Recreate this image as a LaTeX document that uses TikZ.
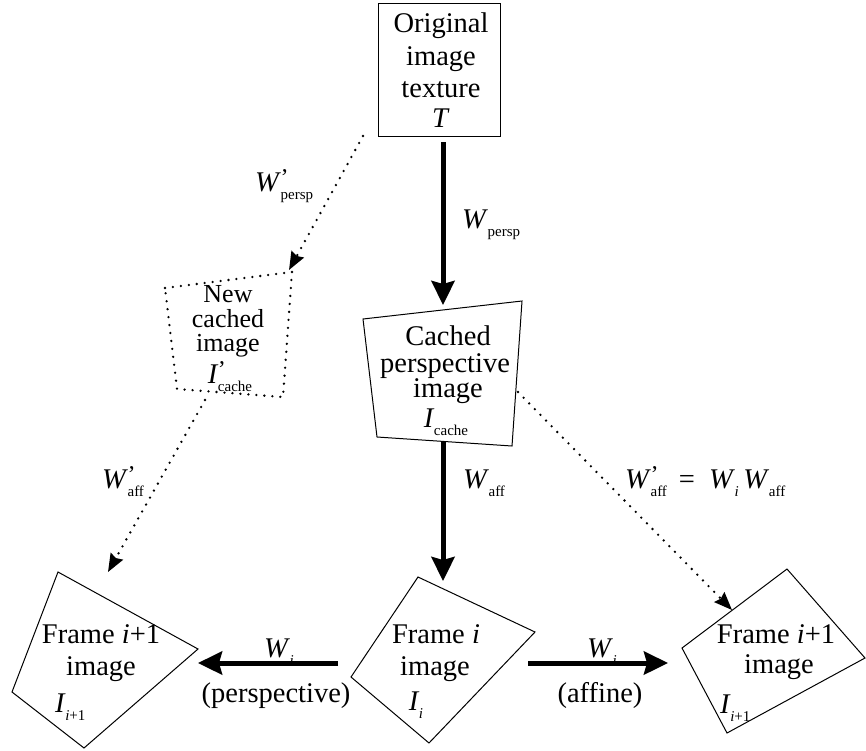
\documentclass[tikz,border=0pt]{standalone}
\usepackage{fontspec}
\setmainfont{Liberation Serif}
\usetikzlibrary{arrows.meta}
\newcommand{\sbs}[1]{\raisebox{-8pt}{\fontsize{15}{15}\selectfont #1}}
\newcommand{\Sy}[2]{\textit{#1}\kern-0.5pt\sbs{#2}}
\newcommand{\Syp}[2]{\textit{#1}\kern-0.5pt\rlap{\raisebox{6pt}{\fontsize{24}{24}\selectfont ’}}\sbs{#2}}
\tikzset{
  txt/.style={anchor=base, inner sep=0pt, font=\fontsize{28.5}{32}\selectfont},
  smalltxt/.style={anchor=base, inner sep=0pt, font=\fontsize{26}{28}\selectfont},
  lbl/.style={anchor=base west, inner sep=0pt, font=\fontsize{28.5}{32}\selectfont},
  boxline/.style={draw, line width=1pt, line join=miter},
  dotline/.style={line width=2.6pt, dash pattern=on 0pt off 8pt, line cap=round},
  bigarrow/.style={line width=5pt, -{Stealth[length=24pt,width=23pt,inset=3pt]}},
  dotarrow/.style={dotline, -{Stealth[length=18pt,width=14pt,inset=2pt]}}
}
\begin{document}
\begin{tikzpicture}[x=1pt,y=-1pt]
\useasboundingbox (0,0) rectangle (866,750);

% Original image texture
\draw[boxline] (378,3) rectangle (500,136);
\node[txt] (o1) at (441,32) {Original};
\node[txt] (o2) at (441,65) {image};
\node[txt] (o3) at (441,97) {texture};
\node[txt] (o4) at (441,127) {\textit{T}};

% Cached perspective image
\draw[boxline] (363,319) -- (522,301) -- (512,446) -- (377,437) -- cycle;
\node[txt] (c1) at (448,345) {Cached};
\node[txt] (c2) at (445,372) {perspective};
\node[txt] (c3) at (448,397) {image};
\node[txt] (c4) at (446,427) {\Sy{I}{cache}};

% New cached image (dotted)
\draw[dotline] (165,288) -- (292,272) -- (283,397) -- (177,389) -- cycle;
\node[smalltxt] (n1) at (228,302) {New};
\node[smalltxt] (n2) at (228,327) {cached};
\node[smalltxt] (n3) at (228,351) {image};
\node[txt] (n4) at (230,383) {\Syp{I}{cache}};

% Frame i
\draw[boxline] (418,577) -- (535,632) -- (429,743) -- (351,677) -- cycle;
\node[txt] (f1) at (436,643) {Frame \textit{i}};
\node[txt] (f2) at (435,675) {image};
\node[txt] (f3) at (416,710) {\Sy{I}{\textit{i}}};

% Frame i+1 (left)
\draw[boxline] (58,572) -- (198,649) -- (84,748) -- (12,692) -- cycle;
\node[txt] (l1) at (101,643) {Frame \textit{i}+1};
\node[txt] (l2) at (101,675) {image};
\node[lbl] (l3) at (55,712) {\Sy{I}{\textit{i}+1}};

% Frame i+1 (right)
\draw[boxline] (787,569) -- (865,658) -- (727,733) -- (682,648) -- cycle;
\node[txt] (r1) at (776,643) {Frame \textit{i}+1};
\node[txt] (r2) at (779,673) {image};
\node[lbl] (r3) at (720,713) {\Sy{I}{\textit{i}+1}};

% connector end points
\coordinate (origS) at (443,142);
\coordinate (cacheN) at (443,305);
\coordinate (cacheS) at (443,442);
\coordinate (frameiN) at (443,581);
\coordinate (frameiW) at (338,663);
\coordinate (leftE) at (198,663);
\coordinate (frameiE) at (528,663);
\coordinate (rightW) at (668,663);
\coordinate (origSW) at (363,136);
\coordinate (newNE) at (289,270);
\coordinate (newS) at (205,400);
\coordinate (leftN) at (108,572);
\coordinate (cacheE) at (518,392);
\coordinate (rightN) at (732,610);

% thick arrows
\draw[bigarrow] (origS) -- (cacheN);
\draw[bigarrow] (cacheS) -- (frameiN);
\draw[bigarrow] (frameiW) -- (leftE);
\draw[bigarrow] (frameiE) -- (rightW);

% dotted arrows
\draw[dotarrow] (origSW) -- (newNE);
\draw[dotarrow] (newS) -- (leftN);
\draw[dotarrow] (cacheE) -- (rightN);

% labels
\node[lbl] (wp1) at (255,191) {\Syp{W}{persp}};
\node[lbl] (wp2) at (462,228) {\Sy{W}{persp}};
\node[lbl] (wa1) at (463,488) {\Sy{W}{aff}};
\node[lbl] (wa2) at (102,488) {\Syp{W}{aff}};
\node[lbl] (wa3) at (625,488) {\Syp{W}{aff}\, = \ \Sy{W}{\textit{i}}\,\Sy{W}{aff}};
\node[txt] (wi1) at (279,657) {\Sy{W}{\textit{i}}};
\node[txt] (pe) at (276,702) {(perspective)};
\node[txt] (wi2) at (602,657) {\Sy{W}{\textit{i}}};
\node[txt] (af) at (600,702) {(affine)};
\end{tikzpicture}
\end{document}
